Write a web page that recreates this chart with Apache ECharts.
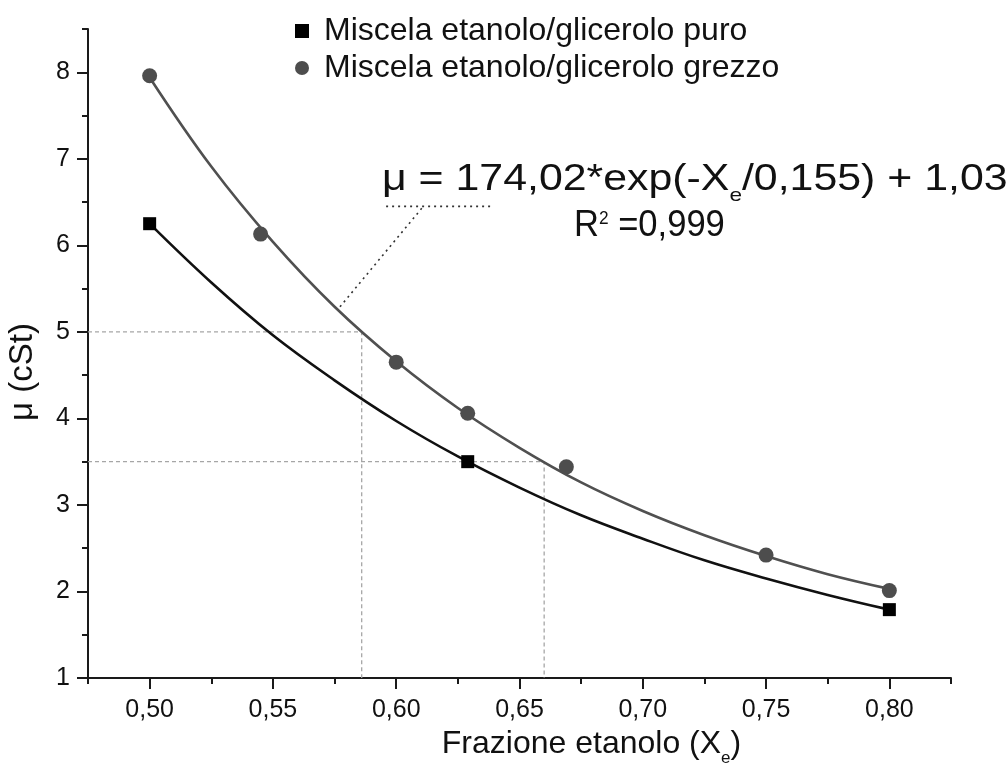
<!DOCTYPE html>
<html>
<head>
<meta charset="utf-8">
<script src="https://cdn.jsdelivr.net/npm/echarts@6/dist/echarts.min.js"></script>
<style>html,body{margin:0;padding:0;background:#fff}#c{width:1008px;height:767px}</style>
</head>
<body>
<div id="c"></div>
<script>
// ---- data ----
const seriesNames = ['Miscela etanolo/glicerolo puro', 'Miscela etanolo/glicerolo grezzo'];
const xPuro = [0.50, 0.629, 0.80];
const yPuro = [6.25, 3.50, 1.79];
const xGrezzo = [0.50, 0.545, 0.60, 0.629, 0.669, 0.75, 0.80];
const yGrezzo = [7.96, 6.13, 4.65, 4.06, 3.44, 2.42, 2.01];
// fitted curves
const fitX = [0.50, 0.525, 0.55, 0.575, 0.60, 0.625, 0.65, 0.675, 0.70, 0.725, 0.75, 0.775, 0.80];
const fitPuro = [6.25, 5.57, 4.96, 4.44, 3.97, 3.56, 3.20, 2.88, 2.61, 2.36, 2.15, 1.96, 1.79];
const fitGrezzo = [7.94, 6.91, 6.04, 5.29, 4.66, 4.12, 3.66, 3.26, 2.93, 2.65, 2.41, 2.20, 2.03];
// reference (guide) lines
const refX = [0.586, 0.66];
const refY = [5, 3.5];
// leader line of the equation annotation
const leaderX = [0.5772, 0.611];
const leaderY = [5.29, 6.45];
const leaderBarX = [0.5959, 0.6394];
// axes
const xMin = 0.475, xMax = 0.825;
const yMin = 1, yMax = 8.5;
const xMajor = [0.50, 0.55, 0.60, 0.65, 0.70, 0.75, 0.80];
const xMinor = [0.475, 0.525, 0.575, 0.625, 0.675, 0.725, 0.775, 0.825];
const yMajor = [1, 2, 3, 4, 5, 6, 7, 8];
const yMinor = [1.5, 2.5, 3.5, 4.5, 5.5, 6.5, 7.5, 8.5];

const FONT = "'Liberation Sans', Arial, sans-serif";
const AX = '#1a1a1a';
const zip = (a, b) => a.map((v, i) => [v, b[i]]);
const fmt = v => v.toFixed(2).replace('.', ',');

const chart = echarts.init(document.getElementById('c'), null, {renderer: 'canvas'});

const option = {
  backgroundColor: '#fff',
  animation: false,
  textStyle: {fontFamily: FONT},
  grid: {left: 88, right: 57, top: 29, bottom: 89, containLabel: false, outerBoundsMode: 'none'},
  legend: {
    orient: 'vertical',
    left: 290,
    top: 10,
    itemGap: 5,
    itemWidth: 14,
    itemHeight: 14,
    textStyle: {fontSize: 32, lineHeight: 31, color: '#111', fontFamily: FONT, padding: [0, 0, 0, 10]},
    data: [
      {name: seriesNames[0], icon: 'rect', itemStyle: {color: '#000'}},
      {name: seriesNames[1], icon: 'circle', itemStyle: {color: '#4d4d4d'}}
    ]
  },
  xAxis: [{
    type: 'value', min: xMin, max: xMax,
    name: '{t|Frazione etanolo (X}{s|e}{t|)}',
    nameLocation: 'middle', nameGap: 46,
    nameTextStyle: {
      padding: [0, 0, 0, 144],
      rich: {
        t: {fontSize: 32, fontFamily: FONT, color: '#111', lineHeight: 34},
        s: {fontSize: 17, fontFamily: FONT, color: '#111', lineHeight: 34, verticalAlign: 'bottom', padding: [0, 0, -6, 0]}
      }
    },
    axisLine: {show: true, onZero: false, lineStyle: {color: AX, width: 2}},
    axisTick: {show: true, customValues: xMajor, length: 11, lineStyle: {color: AX, width: 2}},
    axisLabel: {customValues: xMajor, formatter: fmt, fontSize: 25, color: '#111', margin: 20, fontFamily: FONT},
    splitLine: {show: false}
  }, {
    type: 'value', min: xMin, max: xMax, position: 'bottom', offset: 0,
    axisLine: {show: false},
    axisTick: {show: true, customValues: xMinor, length: 6, lineStyle: {color: AX, width: 2}},
    axisLabel: {show: false},
    splitLine: {show: false}
  }],
  yAxis: [{
    type: 'value', min: yMin, max: yMax,
    name: 'μ (cSt)',
    nameLocation: 'middle', nameGap: 49, nameRotate: 90,
    nameTextStyle: {fontSize: 33, color: '#111', fontFamily: FONT, padding: [0, 37, 0, 0]},
    axisLine: {show: true, onZero: false, lineStyle: {color: AX, width: 2}},
    axisTick: {show: true, customValues: yMajor, length: 11, lineStyle: {color: AX, width: 2}},
    axisLabel: {customValues: yMajor, fontSize: 25, color: '#111', margin: 18, fontFamily: FONT},
    splitLine: {show: false}
  }, {
    type: 'value', min: yMin, max: yMax, position: 'left', offset: 0,
    axisLine: {show: false},
    axisTick: {show: true, customValues: yMinor, length: 6, lineStyle: {color: AX, width: 2}},
    axisLabel: {show: false},
    splitLine: {show: false}
  }],
  series: [
    // guide lines
    ...refX.map((rx, i) => ({
      type: 'line', silent: true, symbol: 'none', z: 1,
      data: [[xMin, refY[i]], [rx, refY[i]], [rx, yMin]],
      lineStyle: {color: '#a6a6a6', width: 1.3, type: [4, 3]}
    })),
    // leader line
    {
      type: 'line', silent: true, symbol: 'none', z: 1,
      data: [[leaderX[0], leaderY[0]], [leaderX[1], leaderY[1]]],
      lineStyle: {color: '#333', width: 1.6, type: [2, 4]}
    },
    {
      type: 'line', silent: true, symbol: 'none', z: 1,
      data: [[leaderBarX[0], leaderY[1]], [leaderBarX[1], leaderY[1]]],
      lineStyle: {color: '#333', width: 1.6, type: [2, 4]}
    },
    // fitted curves
    {
      type: 'line', silent: true, symbol: 'none', smooth: 0.4, z: 2,
      data: zip(fitX, fitPuro),
      lineStyle: {color: '#111', width: 2.6}
    },
    {
      type: 'line', silent: true, symbol: 'none', smooth: 0.4, z: 2,
      data: zip(fitX, fitGrezzo),
      lineStyle: {color: '#505050', width: 2.6}
    },
    // measured points
    {
      name: seriesNames[0], type: 'scatter', symbol: 'rect', symbolSize: 13, z: 5,
      itemStyle: {color: '#000', opacity: 1},
      data: zip(xPuro, yPuro)
    },
    {
      name: seriesNames[1], type: 'scatter', symbol: 'circle', symbolSize: 15, z: 5,
      itemStyle: {color: '#4d4d4d', opacity: 1},
      data: zip(xGrezzo, yGrezzo)
    }
  ],
  graphic: [
    {
      type: 'text', x: 382, y: 180, scaleX: 1.19, scaleY: 1, z: 10,
      style: {
        text: '{a|μ = 174,02*exp(-X}{s|e}{a|/0,155) + 1,03}',
        fill: '#111',
        align: 'left',
        verticalAlign: 'middle',
        rich: {
          a: {fontSize: 36, fontFamily: FONT, fill: '#111', lineHeight: 40},
          s: {fontSize: 19, fontFamily: FONT, fill: '#111', lineHeight: 40, verticalAlign: 'bottom', padding: [0, 0, -5, 0]}
        }
      }
    },
    {
      type: 'text', x: 574, y: 226, scaleX: 0.96, scaleY: 1, z: 10,
      style: {
        text: '{a|R}{p|2}{a| =0,999}',
        fill: '#111',
        align: 'left',
        verticalAlign: 'middle',
        rich: {
          a: {fontSize: 36, fontFamily: FONT, fill: '#111', lineHeight: 40},
          p: {fontSize: 18, fontFamily: FONT, fill: '#111', lineHeight: 40, verticalAlign: 'top', padding: [4, 0, 0, 0]}
        }
      }
    }
  ]
};
chart.setOption(option);
</script>
</body>
</html>
